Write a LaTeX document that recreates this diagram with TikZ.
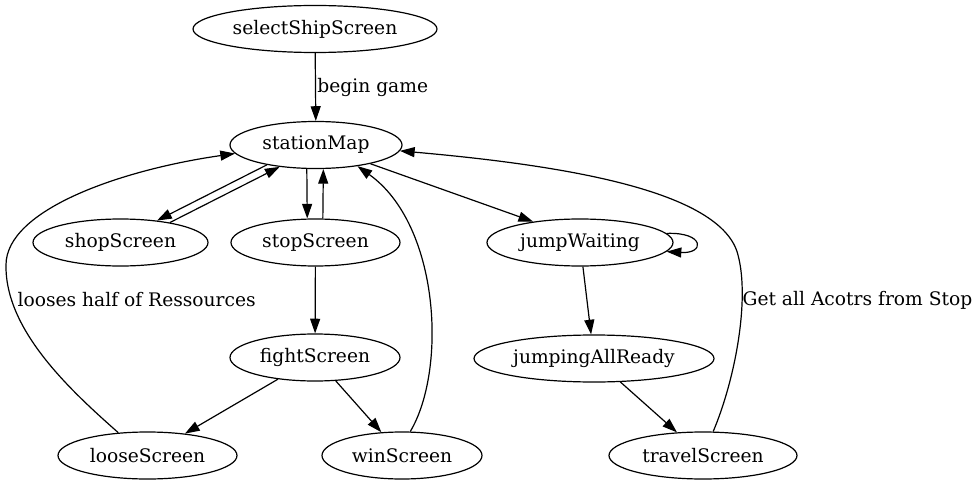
\documentclass[tikz,border=0pt]{standalone}
\usepackage{fontspec}
\setmainfont{DejaVu Serif}
\usetikzlibrary{arrows.meta,shapes.geometric}
\begin{document}
\begin{tikzpicture}[x=0.75pt,y=-0.75pt,
  st/.style={draw,ellipse,line width=0.9pt,inner sep=0pt,minimum height=35.25pt,font=\fontsize{14pt}{17pt}\selectfont},
  e/.style={draw,line width=0.9pt,-{Triangle[length=11pt,width=7.5pt]}},
  lbl/.style={font=\fontsize{14pt}{17pt}\selectfont,inner sep=1pt}]
\useasboundingbox (0,0) rectangle (978,485);
\node[st,minimum width=183pt] (selectShipScreen) at (315,29) {selectShipScreen};
\node[st,minimum width=129pt] (stationMap) at (316,145) {stationMap};
\node[st,minimum width=131.25pt] (shopScreen) at (120.5,242.5) {shopScreen};
\node[st,minimum width=126.75pt] (stopScreen) at (315.5,242.5) {stopScreen};
\node[st,minimum width=139.5pt] (jumpWaiting) at (580,242.5) {jumpWaiting};
\node[st,minimum width=127.5pt] (fightScreen) at (315,357.5) {fightScreen};
\node[st,minimum width=180pt] (jumpingAllReady) at (594,358.5) {jumpingAllReady};
\node[st,minimum width=134.25pt] (looseScreen) at (147.5,455.5) {looseScreen};
\node[st,minimum width=120pt] (winScreen) at (402,455.5) {winScreen};
\node[st,minimum width=141pt] (travelScreen) at (703,455.5) {travelScreen};

\draw[e] (selectShipScreen) -- node[lbl,anchor=west,pos=0.5] {begin game} (stationMap);
\draw[e] (stationMap.-158) -- (shopScreen.31);
\draw[e] (shopScreen.22) -- (stationMap.-149);
\draw[e] (stationMap.-111) -- (stopScreen.109);
\draw[e] (stopScreen.73) -- (stationMap.-73);
\draw[e] (stationMap.-19) -- (jumpWaiting.156);
\draw[e] (jumpWaiting.6) .. controls (705,232) and (705,254) .. (jumpWaiting.-6);
\draw[e] (jumpWaiting) -- (jumpingAllReady);
\draw[e] (stopScreen) -- (fightScreen);
\draw[e] (fightScreen) -- (looseScreen);
\draw[e] (fightScreen) -- (winScreen);
\draw[e] (jumpingAllReady) -- (travelScreen);
\draw[e] (looseScreen.142) .. controls (70,390) and (5,330) .. (6,265)
  .. controls (6,210) and (120,170) .. (stationMap.-174);
\node[lbl,anchor=west] (lblLoose) at (16,300) {looses half of Ressources};
\draw[e] (winScreen.71) .. controls (447,370) and (440,225) .. (stationMap.-27);
\draw[e] (travelScreen.67) .. controls (735,380) and (750,300) .. (738,255)
  .. controls (722,190) and (560,165) .. (stationMap.-4);
\node[lbl,anchor=west] (lblTravel) at (741,300) {Get all Acotrs from Stop};
\end{tikzpicture}
\end{document}
